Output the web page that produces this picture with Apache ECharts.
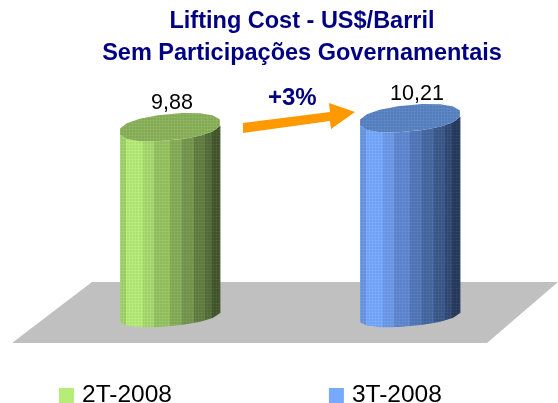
<!DOCTYPE html>
<html>
<head>
<meta charset="utf-8">
<style>
html, body { margin: 0; padding: 0; background: #fff; }
#chart-container { width: 558px; height: 403px; }
</style>
<script src="https://cdn.jsdelivr.net/npm/echarts@6/dist/echarts.min.js"></script>
</head>
<body>
<div id="chart-container"></div>
<script>
var titleLines = ['Lifting Cost - US$/Barril', 'Sem Participações Governamentais'];
var categories = ['2T-2008', '3T-2008'];
var values = [9.88, 10.21];
var valueLabels = ['9,88', '10,21'];
var changeLabel = '+3%';

// share of the bar width taken by each vertical strip, left to right
var stripWidths = [0.06, 0.17, 0.11, 0.16, 0.12, 0.12, 0.11, 0.07, 0.08];
var greenStrips = ['#a3d36a', '#b6ec78', '#a8da70', '#96c463', '#86ae58', '#75984e', '#647f44', '#566e3c', '#46582f'];
var blueStrips = ['#6c97e4', '#77a9ff', '#6d9bea', '#6088d2', '#5379bb', '#4769a3', '#3c5a8c', '#334c77', '#283c5e'];
var green = '#b6ec78', blue = '#77a9ff';
var greenTop = '#8bb35b', blueTop = '#5a84c4';

var dom = document.getElementById('chart-container');
var myChart = echarts.init(dom, null, { renderer: 'canvas' });

// little dot tile, the original has a dithered look
var tile = document.createElement('canvas');
tile.width = 3;
tile.height = 3;
var tctx = tile.getContext('2d');
tctx.fillStyle = 'rgba(255,255,255,0.07)';
tctx.fillRect(0, 0, 1, 1);
tctx.fillStyle = 'rgba(0,0,0,0.05)';
tctx.fillRect(1, 1, 2, 2);

function cylinder(strips, topColor, labelText, labelDx) {
    return function (params, api) {
        var idx = api.value(0);
        var base = api.coord([idx, 3]);
        var top = api.coord([idx, api.value(1)]);
        var cx = base[0];
        var rx = api.size([1, 0])[0] * 0.208;
        var topRy = 13, bottomRy = 11, shear = 0.09;
        var sides = 16;
        var power = 0.88;

        // the round ends are really many sided polygons, a bit blunt at the sides
        function ring(cy, ry) {
            var pts = [];
            var lim = Math.pow(Math.cos(Math.PI / sides), power);
            for (var k = 0; k < sides; k++) {
                var t = (k + 0.5) / sides * Math.PI * 2;
                var c = Math.cos(t), n = Math.sin(t);
                var px = cx + rx / lim * (c < 0 ? -1 : 1) * Math.pow(Math.abs(c), power);
                pts.push([px, cy + ry / lim * (n < 0 ? -1 : 1) * Math.pow(Math.abs(n), power) - shear * (px - cx)]);
            }
            return pts;
        }

        // lower edge of a ring at x
        function front(x, cy, ry) {
            var pts = ring(cy, ry).slice(0, sides / 2);
            for (var i = 0; i < pts.length - 1; i++) {
                if (x <= pts[i][0] && x >= pts[i + 1][0]) {
                    var f = (x - pts[i + 1][0]) / (pts[i][0] - pts[i + 1][0]);
                    return pts[i + 1][1] + f * (pts[i][1] - pts[i + 1][1]);
                }
            }
            return x < cx ? pts[pts.length - 1][1] : pts[0][1];
        }

        function sidePoints(x0, x1) {
            var upper = [], lower = [];
            for (var x = x0; x < x1; x += 1) {
                upper.push([x, front(x, top[1], topRy)]);
                lower.unshift([x, front(x, base[1], bottomRy)]);
            }
            upper.push([x1, front(x1, top[1], topRy)]);
            lower.unshift([x1, front(x1, base[1], bottomRy)]);
            return upper.concat(lower);
        }

        var children = [];
        var x0 = cx - rx;
        strips.forEach(function (c, i) {
            var x1 = x0 + stripWidths[i] * rx * 2;
            children.push({
                type: 'polygon',
                shape: { points: sidePoints(x0, x1 + 0.5) },
                style: { fill: c }
            });
            x0 = x1;
        });

        var topRing = ring(top[1], topRy);
        children.push({
            type: 'polygon',
            shape: { points: sidePoints(cx - rx, cx + rx) },
            style: { fill: { image: tile, repeat: 'repeat' } }
        });
        children.push({
            type: 'polygon',
            shape: { points: topRing },
            style: { fill: topColor }
        });
        children.push({
            type: 'polygon',
            shape: { points: topRing },
            style: { fill: { image: tile, repeat: 'repeat' } }
        });
        children.push({
            type: 'text',
            style: {
                text: labelText,
                x: cx + labelDx,
                y: top[1] - 24,
                align: 'center',
                verticalAlign: 'middle',
                fill: '#000',
                font: '21.5px "Liberation Sans"'
            }
        });
        return { type: 'group', children: children };
    };
}

var option = {
    animation: false,
    backgroundColor: '#fff',
    title: {
        text: titleLines.join('\n'),
        left: 297,
        top: 1,
        textAlign: 'center',
        textStyle: {
            color: '#000080',
            fontFamily: 'Liberation Sans',
            fontWeight: 'bold',
            fontSize: 23.5,
            lineHeight: 32
        }
    },
    legend: {
        left: 54,
        top: 378,
        icon: 'rect',
        itemWidth: 15,
        itemHeight: 15,
        itemGap: 157,
        itemStyle: { borderWidth: 0 },
        textStyle: { color: '#000', fontFamily: 'Liberation Sans', fontSize: 24.5, padding: [0, 0, 0, 3] },
        data: categories
    },
    grid: { left: 50, width: 480, top: 42, height: 273 },
    xAxis: {
        type: 'category',
        data: categories,
        show: false
    },
    yAxis: {
        type: 'value',
        min: 3,
        max: 13,
        show: false
    },
    graphic: [
        {
            type: 'polygon',
            z: -1,
            shape: { points: [[92, 282], [558, 282], [487, 343], [12, 343]] },
            style: { fill: '#c0c0c0' }
        },
        {
            type: 'polygon',
            z: 10,
            shape: { points: [[243, 123], [330, 112], [329, 103], [355, 112], [331, 129], [330, 121], [243, 133]] },
            style: { fill: '#ff9900' }
        },
        {
            type: 'text',
            z: 10,
            left: 268,
            top: 86,
            style: {
                text: changeLabel,
                fill: '#000080',
                font: 'bold 24px "Liberation Sans"'
            }
        }
    ],
    series: [
        {
            type: 'custom',
            name: categories[0],
            itemStyle: { color: green },
            renderItem: cylinder(greenStrips, greenTop, valueLabels[0], 2),
            data: [[0, values[0]]]
        },
        {
            type: 'custom',
            name: categories[1],
            itemStyle: { color: blue },
            renderItem: cylinder(blueStrips, blueTop, valueLabels[1], 7),
            data: [[1, values[1]]]
        }
    ]
};

myChart.setOption(option);
window.addEventListener('resize', myChart.resize);
</script>
</body>
</html>
